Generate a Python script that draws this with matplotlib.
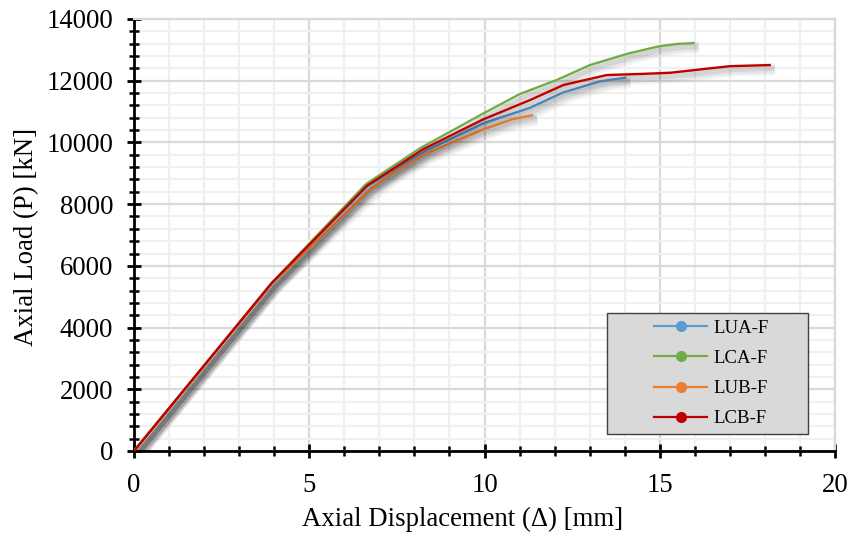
import matplotlib
matplotlib.use("Agg")
import matplotlib.pyplot as plt
import matplotlib.patheffects as pe
from matplotlib.ticker import MultipleLocator
from matplotlib.patches import Rectangle
from matplotlib.lines import Line2D

plt.rcParams['font.family'] = ['Liberation Serif', 'DejaVu Serif']

series_names = ["LUA-F", "LCA-F", "LUB-F", "LCB-F"]
series_colors = ["#5B9BD5", "#70AD47", "#ED7D31", "#C00000"]

lua_x = [0, 3.93, 6.65, 8.3, 9.97, 11.3, 12.25, 13.3, 14.05]
lua_y = [0, 5440, 8580, 9720, 10620, 11120, 11620, 11980, 12100]

lca_x = [0, 3.93, 6.62, 8.16, 9.97, 11.01, 12.06, 13.01, 14.1, 15.0, 15.5, 16.0]
lca_y = [0, 5450, 8650, 9810, 10940, 11570, 12022, 12508, 12880, 13120, 13190, 13220]

lub_x = [0, 3.93, 6.78, 7.4, 8.35, 9.97, 10.8, 11.39]
lub_y = [0, 5430, 8510, 9020, 9646, 10424, 10750, 10890]

lcb_x = [0, 3.93, 6.65, 8.25, 9.97, 11.3, 12.25, 13.49, 14.5, 15.3, 16.43, 17.0, 18.17]
lcb_y = [0, 5440, 8600, 9780, 10750, 11374, 11860, 12184, 12220, 12258, 12400, 12470, 12508]

xs = [lua_x, lca_x, lub_x, lcb_x]
ys = [lua_y, lca_y, lub_y, lcb_y]

W, H = 848, 535
fig = plt.figure(figsize=(W / 100, H / 100), dpi=100)
ax = fig.add_axes([134 / W, 1 - 451 / H, (835 - 134) / W, (451 - 19) / H])

ax.set_xlim(0, 20)
ax.set_ylim(0, 14000)
ax.xaxis.set_major_locator(MultipleLocator(5))
ax.xaxis.set_minor_locator(MultipleLocator(1))
ax.yaxis.set_major_locator(MultipleLocator(2000))
ax.yaxis.set_minor_locator(MultipleLocator(400))

ax.grid(which='minor', color='#f0f0f0', linewidth=1.6, zorder=0)
ax.grid(which='major', color='#d9d9d9', linewidth=1.6, zorder=0)
ax.set_axisbelow(True)

for s in ['top', 'right']:
    ax.spines[s].set_color('#d9d9d9')
    ax.spines[s].set_linewidth(1.6)
for s in ['left', 'bottom']:
    ax.spines[s].set_color('black')
    ax.spines[s].set_linewidth(2.0)

FS = 19.3
ax.tick_params(which='major', direction='inout', length=10, width=2.0,
               labelsize=FS, colors='black')
ax.tick_params(which='minor', direction='inout', length=7, width=1.8)
ax.tick_params(axis='x', which='major', pad=11)
ax.tick_params(axis='y', which='major', pad=10)

shadow = [pe.SimpleLineShadow(offset=(3, -3), shadow_color='black', alpha=0.04, linewidth=9),
          pe.SimpleLineShadow(offset=(3, -3), shadow_color='black', alpha=0.06, linewidth=6),
          pe.SimpleLineShadow(offset=(2.5, -2.5), shadow_color='black', alpha=0.07, linewidth=3.5),
          pe.Normal()]

for x, y, c in zip(xs, ys, series_colors):
    ax.plot(x, y, color=c, linewidth=1.7, zorder=3, path_effects=shadow,
            solid_joinstyle='round', solid_capstyle='butt')

ax.set_xlabel("Axial Displacement (Δ) [mm]", fontsize=FS)
ax.set_ylabel("Axial Load (P) [kN]", fontsize=FS)
ax.xaxis.set_label_coords((463 - 134) / 701, -(519 - 451) / 432, transform=ax.transAxes)
ax.xaxis.label.set_va('center')
ax.yaxis.set_label_coords(-(134 - 27) / 701, (451 - 237) / 432, transform=ax.transAxes)
ax.yaxis.label.set_va('center')

# legend box
bx0, by0, bx1, by1 = 607, 313, 808, 434
rect = Rectangle((bx0 / W, 1 - by1 / H), (bx1 - bx0) / W, (by1 - by0) / H,
                 transform=fig.transFigure, facecolor='#d9d9d9',
                 edgecolor='#404040', linewidth=1.0, zorder=5)
fig.add_artist(rect)

handles = [Line2D([], [], color=c, linewidth=1.6, marker='o', markersize=7)
           for c in series_colors]
leg = fig.legend(handles, series_names, loc='center',
                 bbox_to_anchor=((bx0 + bx1) / 2 / W + 4 / W, 1 - (by0 + by1) / 2 / H),
                 frameon=False, fontsize=13.5, handlelength=2.8, handletextpad=0.35,
                 labelspacing=0.7, borderpad=0)
leg.set_zorder(6)

fig.savefig("out.png", dpi=100)
